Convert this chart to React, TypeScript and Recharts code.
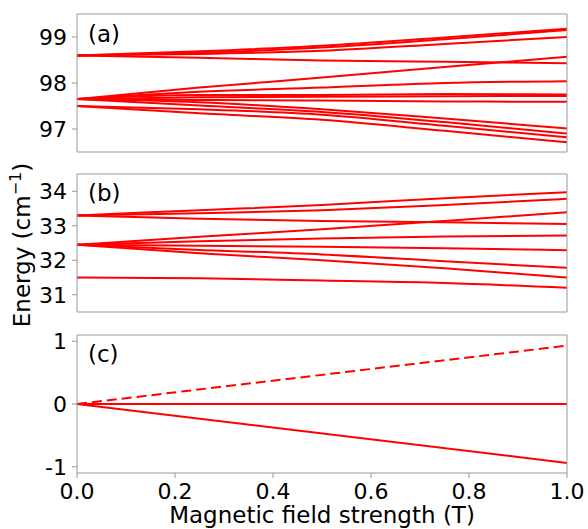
import { LineChart, Line, XAxis, YAxis } from "recharts";

const FONT = "'DejaVu Sans', sans-serif";
const RED = "#ff0000";
const SPINE = "#9a9a9a";

const fieldTicks = [0, 0.2, 0.4, 0.6, 0.8, 1.0];
const fieldPoints = [0, 0.25, 0.5, 0.75, 1.0];

// panel (a): energies (cm^-1) at each field point
const levelsA = [
  [98.6, 98.69, 98.81, 98.99, 99.18],
  [98.6, 98.66, 98.77, 98.95, 99.15],
  [98.6, 98.63, 98.7, 98.85, 99.0],
  [98.6, 98.55, 98.49, 98.46, 98.43],
  [97.65, 97.9, 98.12, 98.35, 98.57],
  [97.65, 97.81, 97.9, 98.0, 98.04],
  [97.65, 97.74, 97.74, 97.76, 97.75],
  [97.65, 97.69, 97.7, 97.71, 97.72],
  [97.65, 97.63, 97.62, 97.6, 97.59],
  [97.65, 97.58, 97.43, 97.23, 97.01],
  [97.65, 97.51, 97.37, 97.15, 96.9],
  [97.5, 97.43, 97.31, 97.07, 96.82],
  [97.5, 97.34, 97.2, 96.96, 96.71],
];
const ticksA = [97, 98, 99];

// panel (b)
const levelsB = [
  [33.3, 33.45, 33.6, 33.8, 33.97],
  [33.3, 33.36, 33.45, 33.6, 33.78],
  [33.3, 33.2, 33.14, 33.1, 33.05],
  [32.45, 32.68, 32.9, 33.14, 33.39],
  [32.45, 32.55, 32.63, 32.69, 32.72],
  [32.45, 32.42, 32.39, 32.35, 32.29],
  [32.45, 32.3, 32.17, 31.97, 31.78],
  [32.45, 32.2, 32.0, 31.77, 31.5],
  [31.5, 31.48, 31.41, 31.34, 31.2],
];
const ticksB = [31, 32, 33, 34];

// panel (c)
const fieldPointsC = [0, 1.0];
const solidC = [
  [0, 0],
  [0, -0.94],
];
const dashedC = [0, 0.93];
const ticksC = [-1, 0, 1];

const toRows = (xs: number[], series: number[][]) =>
  xs.map((x, i) => {
    const row: Record<string, number> = { x };
    series.forEach((s, k) => {
      row["l" + k] = s[i];
    });
    return row;
  });

const tickStyle = { fill: "#000", fontSize: 22, fontFamily: FONT };

interface PanelProps {
  top: number;
  height: number;
  xHeight: number;
  rows: Record<string, number>[];
  count: number;
  dashed?: number[];
  domain: [number, number];
  ticks: number[];
  showX?: boolean;
}

const Panel = ({ top, height, xHeight, rows, count, dashed = [], domain, ticks, showX }: PanelProps) => (
  <div style={{ position: "absolute", left: 0, top }}>
    <LineChart width={588} height={height} data={rows} margin={{ top: 13, right: 20, bottom: 0, left: 0 }}>
      <XAxis
        dataKey="x"
        type="number"
        domain={[0, 1]}
        ticks={fieldTicks}
        height={xHeight}
        tickSize={5}
        tickMargin={5}
        stroke={SPINE}
        tick={showX ? tickStyle : false}
        tickFormatter={(v: number) => v.toFixed(1)}
        interval={0}
      />
      <XAxis xAxisId="top" orientation="top" dataKey="x" type="number" domain={[0, 1]} height={1} tick={false} tickLine={false} stroke={SPINE} />
      <YAxis
        type="number"
        domain={domain}
        ticks={ticks}
        width={77}
        tickSize={5}
        tickMargin={5}
        stroke={SPINE}
        tick={tickStyle}
        interval={0}
      />
      <YAxis yAxisId="right" orientation="right" type="number" domain={domain} width={1} tick={false} tickLine={false} stroke={SPINE} />
      {Array.from({ length: count }, (_, k) => (
        <Line
          key={k}
          dataKey={"l" + k}
          type="monotone"
          stroke={RED}
          strokeWidth={2}
          dot={false}
          strokeDasharray={dashed.includes(k) ? "10 5" : undefined}
          isAnimationActive={false}
        />
      ))}
    </LineChart>
  </div>
);

export default function App() {
  const rowsA = toRows(fieldPoints, levelsA);
  const rowsB = toRows(fieldPoints, levelsB);
  const rowsC = toRows(fieldPointsC, [...solidC, dashedC]);

  return (
    <div style={{ position: "absolute", left: 0, top: 0, width: 588, height: 529, background: "#fff", fontFamily: FONT }}>
      <Panel top={0} height={170} xHeight={18} rows={rowsA} count={levelsA.length} domain={[96.5, 99.5]} ticks={ticksA} />
      <Panel top={160} height={170} xHeight={18} rows={rowsB} count={levelsB.length} domain={[30.5, 34.5]} ticks={ticksB} />
      <Panel top={321} height={208} xHeight={56} rows={rowsC} count={3} dashed={[2]} domain={[-1.1, 1.1]} ticks={ticksC} showX />
      <svg width={588} height={529} style={{ position: "absolute", left: 0, top: 0, pointerEvents: "none" }}>
        <g fontFamily={FONT} fill="#000">
          <text x={88} y={42} fontSize={23}>(a)</text>
          <text x={88} y={201} fontSize={23}>(b)</text>
          <text x={88} y={362} fontSize={23}>(c)</text>
          <text x={322} y={523} fontSize={23} textAnchor="middle">Magnetic field strength (T)</text>
          <text transform="translate(30, 245) rotate(-90)" fontSize={23} textAnchor="middle">
            Energy (cm<tspan fontSize={16} dy={-9}>−1</tspan><tspan dy={9}>)</tspan>
          </text>
        </g>
      </svg>
    </div>
  );
}
